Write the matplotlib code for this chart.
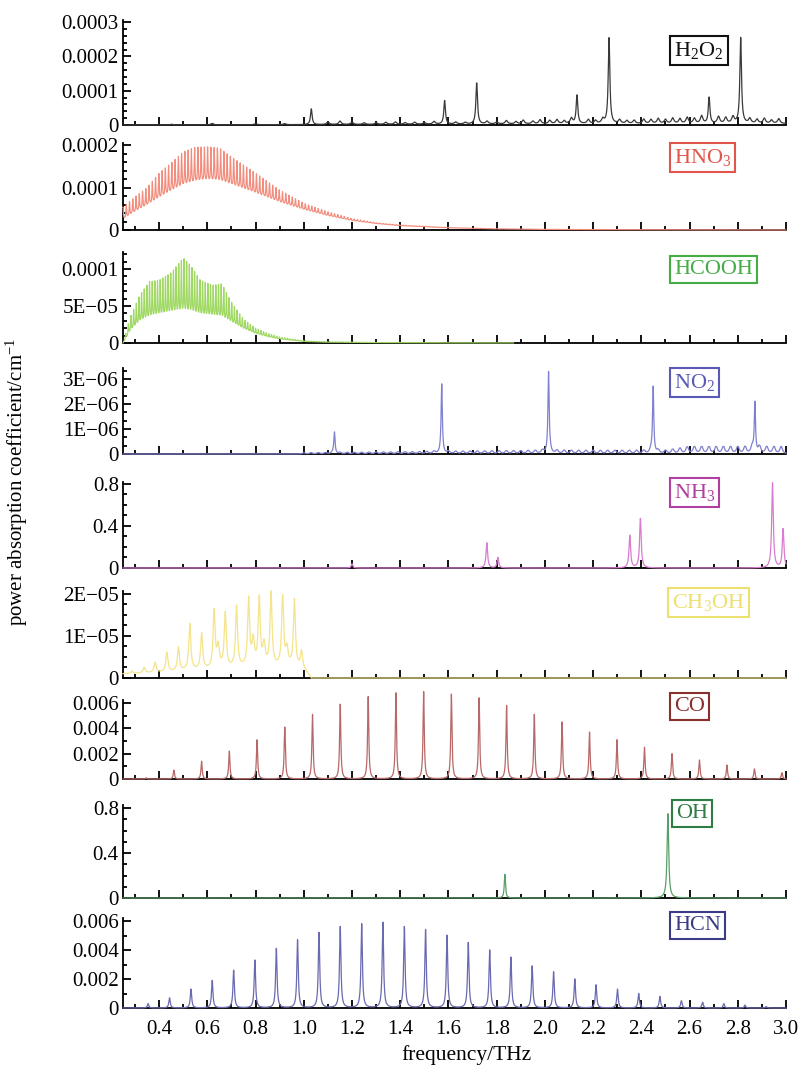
import numpy as np
import matplotlib
matplotlib.use("Agg")
import matplotlib.pyplot as plt
from matplotlib.ticker import MultipleLocator

plt.rcParams['font.family'] = ['Liberation Serif', 'DejaVu Serif']
plt.rcParams['mathtext.fontset'] = 'custom'
plt.rcParams['mathtext.rm'] = 'Liberation Serif'
plt.rcParams['mathtext.it'] = 'Liberation Serif:italic'

# ---------------- data ----------------
freq_min, freq_max = 0.25, 3.0
x_major_ticks = [0.4, 0.6, 0.8, 1.0, 1.2, 1.4, 1.6, 1.8, 2.0, 2.2, 2.4, 2.6, 2.8, 3.0]
x_tick_labels = ['0.4', '0.6', '0.8', '1.0', '1.2', '1.4', '1.6', '1.8', '2.0',
                 '2.2', '2.4', '2.6', '2.8', '3.0']

molecules = ['H$_2$O$_2$', 'HNO$_3$', 'HCOOH', 'NO$_2$', 'NH$_3$', 'CH$_3$OH', 'CO', 'OH', 'HCN']

# H2O2: main lines and small lines
H2O2_peak_freq = [1.031, 1.584, 1.717, 2.133, 2.266, 2.681, 2.812]
H2O2_peak_height = [4.6e-5, 6.9e-5, 1.2e-4, 8.3e-5, 2.5e-4, 7.6e-5, 2.5e-4]
H2O2_small = [(0.45, 0.2e-5), (0.62, 0.4e-5), (0.80, 0.3e-5), (0.92, 0.3e-5),
              (1.10, 0.8e-5), (1.15, 1.0e-5), (1.20, 0.7e-5), (1.25, 0.5e-5),
              (1.30, 0.5e-5), (1.34, 0.6e-5), (1.38, 0.7e-5), (1.42, 0.5e-5),
              (1.46, 0.6e-5), (1.50, 0.5e-5), (1.54, 0.8e-5), (1.63, 0.6e-5),
              (1.67, 0.5e-5), (1.76, 0.8e-5), (1.80, 0.6e-5), (1.84, 1.0e-5),
              (1.88, 0.7e-5), (1.91, 1.1e-5), (1.95, 0.8e-5), (1.98, 1.2e-5),
              (2.02, 1.0e-5), (2.05, 1.2e-5), (2.08, 0.9e-5), (2.11, 1.6e-5),
              (2.18, 1.2e-5), (2.21, 0.9e-5), (2.24, 1.3e-5), (2.31, 1.1e-5),
              (2.34, 0.9e-5), (2.37, 1.0e-5), (2.41, 1.3e-5), (2.44, 1.2e-5),
              (2.47, 1.5e-5), (2.50, 1.2e-5), (2.53, 1.6e-5), (2.56, 1.4e-5),
              (2.59, 1.8e-5), (2.62, 1.5e-5), (2.65, 2.2e-5), (2.72, 2.0e-5),
              (2.75, 1.7e-5), (2.78, 1.9e-5), (2.85, 1.4e-5), (2.88, 1.2e-5),
              (2.91, 1.5e-5), (2.94, 1.0e-5), (2.97, 1.4e-5)]

# HNO3: dense line band, upper / lower envelopes
HNO3_env_freq = [0.25, 0.30, 0.35, 0.40, 0.45, 0.50, 0.55, 0.60, 0.65, 0.70, 0.80,
                 0.90, 1.00, 1.10, 1.20, 1.30, 1.40, 1.60, 1.80, 2.00, 2.50, 3.00]
HNO3_upper = [5.4e-5, 7.8e-5, 1.0e-4, 1.34e-4, 1.58e-4, 1.84e-4, 1.95e-4, 1.96e-4,
              1.93e-4, 1.72e-4, 1.34e-4, 9.4e-5, 6.3e-5, 4.3e-5, 2.7e-5, 1.7e-5,
              1.2e-5, 6e-6, 3e-6, 1.5e-6, 0.5e-6, 0.2e-6]
HNO3_lower = [2.4e-5, 4.0e-5, 5.5e-5, 7.0e-5, 8.5e-5, 9.8e-5, 1.06e-4, 1.1e-4,
              1.08e-4, 1.0e-4, 8.2e-5, 6.3e-5, 4.7e-5, 3.3e-5, 2.2e-5, 1.5e-5,
              1.0e-5, 5e-6, 2.5e-6, 1.3e-6, 0.4e-6, 0.15e-6]
HNO3_line_spacing = 0.0135

# HCOOH: dense line band, upper / lower envelopes (data ends at 1.87 THz)
HCOOH_env_freq = [0.25, 0.28, 0.32, 0.36, 0.40, 0.45, 0.50, 0.53, 0.57, 0.62, 0.66,
                  0.70, 0.75, 0.80, 0.85, 0.90, 1.00, 1.10, 1.30, 1.60, 1.87]
HCOOH_upper = [0.0, 3.5e-5, 6.5e-5, 8.3e-5, 8.5e-5, 9.5e-5, 1.15e-4, 1.05e-4, 8.5e-5,
               7.8e-5, 8.0e-5, 5.5e-5, 3.2e-5, 2.0e-5, 1.3e-5, 8e-6, 3e-6, 1.5e-6,
               0.8e-6, 0.3e-6, 0.2e-6]
HCOOH_lower = [0.0, 1.5e-5, 2.5e-5, 3.0e-5, 3.3e-5, 3.5e-5, 3.5e-5, 3.5e-5, 3.3e-5,
               3.2e-5, 3.0e-5, 2.5e-5, 1.8e-5, 1.2e-5, 8e-6, 5e-6, 2e-6, 1e-6,
               0.5e-6, 0.2e-6, 0.1e-6]
HCOOH_line_spacing = 0.011

# NO2
NO2_peak_freq = [1.127, 1.572, 2.015, 2.449, 2.871]
NO2_peak_height = [0.85e-6, 2.7e-6, 3.2e-6, 2.65e-6, 2.0e-6]
NO2_ripple_freq = [0.25, 1.0, 1.5, 2.0, 2.5, 2.6, 3.0]
NO2_ripple_amp = [0.02e-6, 0.05e-6, 0.1e-6, 0.15e-6, 0.15e-6, 0.3e-6, 0.3e-6]
NO2_ripple_spacing = 0.03

# NH3
NH3_peak_freq = [1.20, 1.759, 1.805, 2.352, 2.396, 2.944, 2.988]
NH3_peak_height = [0.04, 0.24, 0.10, 0.31, 0.47, 0.81, 0.37]

# CH3OH
CH3OH_peak_freq = [0.288, 0.338, 0.383, 0.432, 0.480, 0.527, 0.576, 0.628, 0.674,
                   0.721, 0.771, 0.815, 0.864, 0.912, 0.961, 0.990]
CH3OH_peak_height = [0.5e-6, 1.3e-6, 2.4e-6, 4.6e-6, 5.6e-6, 1.1e-5, 8.5e-6, 1.36e-5,
                     1.3e-5, 1.45e-5, 1.6e-5, 1.6e-5, 1.75e-5, 1.65e-5, 1.6e-5, 4e-6]
CH3OH_shoulder_freq = [0.645, 0.79, 0.835, 0.93]
CH3OH_shoulder_height = [5e-6, 6e-6, 5e-6, 4e-6]
CH3OH_base_freq = [0.25, 0.40, 0.60, 0.80, 0.95, 1.00, 1.03, 3.0]
CH3OH_base = [1.0e-6, 1.3e-6, 2.0e-6, 2.5e-6, 2.5e-6, 2.0e-6, 0.0, 0.0]

# CO
CO_peak_freq = [0.346, 0.461, 0.576, 0.691, 0.806, 0.921, 1.036, 1.151, 1.267, 1.382,
                1.497, 1.612, 1.727, 1.841, 1.956, 2.071, 2.185, 2.299, 2.413, 2.527,
                2.641, 2.755, 2.869, 2.983]
CO_peak_height = [0.0001, 0.0007, 0.0014, 0.0022, 0.0031, 0.0041, 0.0051, 0.0059,
                  0.0065, 0.0068, 0.0069, 0.0067, 0.0064, 0.0058, 0.0051, 0.0045,
                  0.0037, 0.0031, 0.0025, 0.0020, 0.0015, 0.0011, 0.0008, 0.0005]

# OH
OH_peak_freq = [1.834, 2.510]
OH_peak_height = [0.21, 0.75]

# HCN
HCN_peak_freq = [0.354, 0.443, 0.532, 0.620, 0.709, 0.797, 0.886, 0.974, 1.063, 1.151,
                 1.240, 1.328, 1.417, 1.505, 1.594, 1.682, 1.771, 1.859, 1.947, 2.036,
                 2.124, 2.212, 2.301, 2.389, 2.477, 2.566, 2.654, 2.742, 2.830, 2.918]
HCN_peak_height = [0.0003, 0.0007, 0.0013, 0.0019, 0.0026, 0.0033, 0.0041, 0.0047,
                   0.0052, 0.0056, 0.0058, 0.0059, 0.0056, 0.0054, 0.0050, 0.0045,
                   0.0040, 0.0035, 0.0029, 0.0025, 0.0020, 0.0016, 0.0013, 0.0010,
                   0.0008, 0.0005, 0.0004, 0.0003, 0.0002, 0.0001]

# y-axis ticks per panel
y_ticks = [[0, 1e-4, 2e-4, 3e-4], [0, 1e-4, 2e-4], [0, 5e-5, 1e-4],
           [0, 1e-6, 2e-6, 3e-6], [0, 0.4, 0.8], [0, 1e-5, 2e-5],
           [0, 0.002, 0.004, 0.006], [0, 0.4, 0.8], [0, 0.002, 0.004, 0.006]]
y_tick_labels = [['0', '0.0001', '0.0002', '0.0003'], ['0', '0.0001', '0.0002'],
                 ['0', '5E\u221205', '0.0001'], ['0', '1E\u221206', '2E\u221206', '3E\u221206'],
                 ['0', '0.4', '0.8'], ['0', '1E\u221205', '2E\u221205'],
                 ['0', '0.002', '0.004', '0.006'], ['0', '0.4', '0.8'],
                 ['0', '0.002', '0.004', '0.006']]

# ---------------- styles / layout ----------------
W, H = 803, 1069
ax_left_px, ax_right_px = 123, 786
# (bottom px, top px, y value at top)
panel_geom = [(125, 20, 0.000306), (230, 143, 0.000205), (343, 252, 0.000123),
              (454, 368, 3.44e-6), (568, 482, 0.819), (678, 591, 2.07e-5),
              (779, 700, 0.00624), (898, 805, 0.827), (1008, 918, 0.00621)]
y_minor = [2e-5, 2e-5, 1e-5, 1e-6 / 3, 0.1, 2.5e-6, 0.001, 0.1, 0.001]
line_colors = ['#3a3a3a', '#f28c7c', '#9fd862', '#7f80cf', '#d77ccf', '#f4e48a',
               '#b86868', '#5a9e68', '#6a6ab0']
box_colors = ['#111111', '#e0564a', '#45ad45', '#5a5ab6', '#b0409f', '#ece070',
              '#8b2e2e', '#2e7d45', '#3b3b88']
box_pos = [(670, 36), (670, 143), (670, 256), (670, 368), (670, 478), (668, 588),
           (670, 693), (672, 800), (670, 912)]

x = np.linspace(freq_min, freq_max, 24001)


def lorentz(centers, heights, hwhm):
    y = np.zeros_like(x)
    for c, h in zip(centers, heights):
        y += h * hwhm ** 2 / ((x - c) ** 2 + hwhm ** 2)
    return y


def comb(start, stop, spacing, hwhm):
    centers = np.arange(start, stop, spacing)
    return np.clip(lorentz(centers, np.ones_like(centers), hwhm), 0, 1)


spectra = []
# H2O2
sf, sh = zip(*H2O2_small)
y = lorentz(H2O2_peak_freq, H2O2_peak_height, 0.004) + lorentz(sf, sh, 0.006)
y += np.interp(x, [0.25, 1.0, 2.0, 3.0], [0, 1e-6, 3e-6, 4e-6])
spectra.append(y)
# HNO3
up = np.interp(x, HNO3_env_freq, HNO3_upper)
lo = np.interp(x, HNO3_env_freq, HNO3_lower)
spectra.append(lo + (up - lo) * comb(0.25, 3.0, HNO3_line_spacing, 0.0016))
# HCOOH
up = np.interp(x, HCOOH_env_freq, HCOOH_upper)
lo = np.interp(x, HCOOH_env_freq, HCOOH_lower)
y = lo + (up - lo) * comb(0.25, 1.9, HCOOH_line_spacing, 0.0014)
y[x > HCOOH_env_freq[-1]] = np.nan
spectra.append(y)
# NO2
amp = np.interp(x, NO2_ripple_freq, NO2_ripple_amp)
y = lorentz(NO2_peak_freq, NO2_peak_height, 0.003) + amp * comb(1.0, 3.0, NO2_ripple_spacing, 0.006)
spectra.append(y)
# NH3
spectra.append(lorentz(NH3_peak_freq, NH3_peak_height, 0.004))
# CH3OH
y = lorentz(CH3OH_peak_freq, CH3OH_peak_height, 0.005) + \
    lorentz(CH3OH_shoulder_freq, CH3OH_shoulder_height, 0.006) + \
    np.interp(x, CH3OH_base_freq, CH3OH_base)
y[x > 1.03] = 0.0
spectra.append(y)
# CO
spectra.append(lorentz(CO_peak_freq, CO_peak_height, 0.003))
# OH
spectra.append(lorentz(OH_peak_freq[:1], OH_peak_height[:1], 0.003) +
               lorentz(OH_peak_freq[1:], OH_peak_height[1:], 0.004))
# HCN
spectra.append(lorentz(HCN_peak_freq, HCN_peak_height, 0.0035))

fig = plt.figure(figsize=(W / 100, H / 100), dpi=100)

for i in range(9):
    bpx, tpx, ytop = panel_geom[i]
    ax = fig.add_axes([ax_left_px / W, 1 - bpx / H, (ax_right_px - ax_left_px) / W,
                       (bpx - tpx) / H])
    lw = 0.85 if i in (1, 2) else 0.9
    ax.plot(x, spectra[i], color=line_colors[i], lw=lw, clip_on=False, zorder=3)
    ax.set_xlim(freq_min, freq_max)
    ax.set_ylim(0, ytop)
    for s in ('top', 'right'):
        ax.spines[s].set_visible(False)
    for s in ('left', 'bottom'):
        ax.spines[s].set_linewidth(1.3)
    ax.set_xticks(x_major_ticks)
    ax.xaxis.set_minor_locator(MultipleLocator(0.1))
    ax.set_yticks(y_ticks[i], y_tick_labels[i])
    ax.yaxis.set_minor_locator(MultipleLocator(y_minor[i]))
    ax.tick_params(which='both', direction='in', width=1.3, top=False, right=False)
    ax.tick_params(which='major', length=5.5)
    ax.tick_params(which='minor', length=3)
    ax.tick_params(axis='y', labelsize=15, pad=3)
    if i == 8:
        ax.set_xticklabels(x_tick_labels)
        ax.tick_params(axis='x', labelsize=15, pad=9)
    else:
        ax.tick_params(axis='x', labelbottom=False)
    bx, by = box_pos[i]
    fig.text((bx + 4) / W, 1 - (by + 4) / H, molecules[i], ha='left', va='top',
             fontsize=16, color=box_colors[i],
             bbox=dict(boxstyle='square,pad=0.18', fc='white', ec=box_colors[i], lw=1.5))

fig.text(466 / W, 1 - 1055 / H, 'frequency/THz', ha='center', va='center', fontsize=15.5)
fig.text(17 / W, 1 - 482 / H, 'power absorption coefficient/cm$^{\u22121}$', ha='center',
         va='center', rotation=90, fontsize=15)

fig.savefig('out.png', dpi=100)
